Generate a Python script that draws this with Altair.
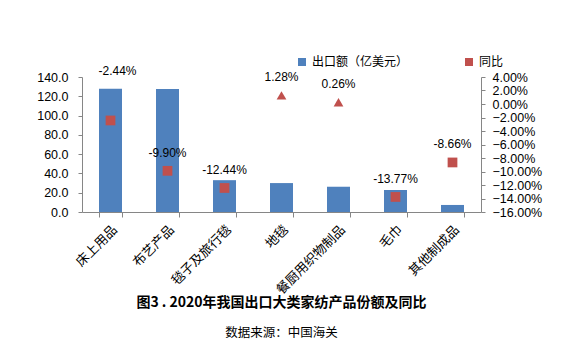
import altair as alt
import pandas as pd

categories = ["床上用品", "布艺产品", "毯子及旅行毯", "地毯", "餐厨用织物制品", "毛巾", "其他制成品"]
export_values = [127.8, 127.6, 33.0, 30.0, 26.2, 22.8, 7.3]
yoy_values = [-2.44, -9.90, -12.44, 1.28, 0.26, -13.77, -8.66]
yoy_labels = ["-2.44%", "-9.90%", "-12.44%", "1.28%", "0.26%", "-13.77%", "-8.66%"]
series_names = ["出口额（亿美元）", "同比"]
left_ticks = [0, 20, 40, 60, 80, 100, 120, 140]
right_ticks = [-16, -14, -12, -10, -8, -6, -4, -2, 0, 2, 4]

BLUE = "#4F81BD"
RED = "#C0504D"
AXIS_GRAY = "#868686"
CJK = "Noto Sans CJK SC"
LATIN = "Liberation Sans"

df = pd.DataFrame({
    "category": categories,
    "export": export_values,
    "yoy": yoy_values,
    "label": yoy_labels,
})
df["shape"] = ["triangle-up" if v >= 0 else "square" for v in yoy_values]

x_enc = alt.X(
    "category:N",
    sort=categories,
    scale=alt.Scale(paddingInner=0.6, paddingOuter=0.3),
    axis=alt.Axis(
        title=None,
        labelAngle=-45,
        tickBand="extent",
        labelFont=CJK,
        labelFontSize=13,
        labelColor="#000000",
        domainColor=AXIS_GRAY,
        tickColor=AXIS_GRAY,
        tickSize=5,
        labelPadding=6,
        grid=False,
    ),
)

color_scale = alt.Scale(domain=series_names, range=[BLUE, RED])
legend = alt.Legend(
    title=None,
    orient="none",
    direction="horizontal",
    legendX=214,
    legendY=-21,
    symbolType="square",
    symbolSize=64,
    symbolStrokeWidth=0,
    labelFont=CJK,
    labelFontSize=12,
    labelColor="#000000",
    columnPadding=54,
    padding=0,
    labelOffset=4,
)

bars = alt.Chart(df).transform_calculate(
    series=f"'{series_names[0]}'"
).mark_bar(size=23).encode(
    x=x_enc,
    y=alt.Y(
        "export:Q",
        scale=alt.Scale(domain=[0, 140], nice=False, zero=True),
        axis=alt.Axis(
            title=None,
            orient="left",
            values=left_ticks,
            format=".1f",
            grid=False,
            labelOverlap=False,
            labelFont=LATIN,
            labelFontSize=12.5,
            labelColor="#000000",
            domainColor=AXIS_GRAY,
            tickColor=AXIS_GRAY,
            tickSize=4,
            labelPadding=10,
        ),
    ),
    color=alt.Color("series:N", scale=color_scale, legend=legend),
)

y_right = alt.Y(
    "yoy:Q",
    scale=alt.Scale(domain=[-16, 4], nice=False, zero=False),
    axis=alt.Axis(
        title=None,
        orient="right",
        values=right_ticks,
        labelExpr="format(datum.value, '.2f') + '%'",
        grid=False,
        labelOverlap=False,
        labelFont=LATIN,
        labelFontSize=12.5,
        labelColor="#000000",
        domainColor=AXIS_GRAY,
        tickColor=AXIS_GRAY,
        tickSize=4,
        labelPadding=7,
    ),
)

points = alt.Chart(df).transform_calculate(
    series=f"'{series_names[1]}'"
).mark_point(filled=True, size=95, opacity=1).encode(
    x=alt.X("category:N", sort=categories),
    y=y_right,
    shape=alt.Shape("shape:N", scale=None, legend=None),
    color=alt.Color("series:N", scale=color_scale, legend=legend),
)

labels_main = alt.Chart(df).transform_filter(
    alt.datum.category != categories[0]
).mark_text(dy=-18, font=LATIN, fontSize=12, color="#000000").encode(
    x=alt.X("category:N", sort=categories),
    y=y_right,
    text="label:N",
)

labels_first = alt.Chart(df).transform_filter(
    alt.datum.category == categories[0]
).mark_text(dy=-49, dx=7, font=LATIN, fontSize=12, color="#000000").encode(
    x=alt.X("category:N", sort=categories),
    y=y_right,
    text="label:N",
)

right_layer = alt.layer(points, labels_main, labels_first)

chart = alt.layer(bars, right_layer).resolve_scale(
    y="independent"
).properties(
    width=399,
    height=135,
    autosize=alt.AutoSizeParams(type="none"),
    padding={"left": 74, "top": 69, "right": 94, "bottom": 142},
    title=alt.TitleParams(
        text="图3 . 2020年我国出口大类家纺产品份额及同比",
        subtitle="数据来源：中国海关",
        orient="bottom",
        anchor="middle",
        offset=-1,
        font=CJK,
        fontSize=14,
        fontWeight="bold",
        color="#000000",
        subtitleFont=CJK,
        subtitleFontSize=12.5,
        subtitleColor="#000000",
        subtitlePadding=17,
    ),
).configure_view(stroke=None)

chart.save("out.html", embed_options={"renderer": "svg", "actions": False})
